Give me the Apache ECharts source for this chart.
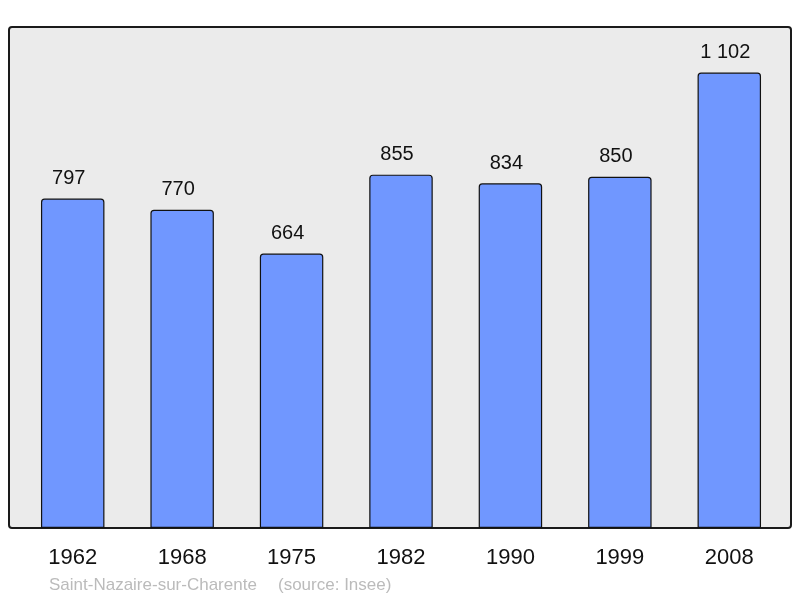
<!DOCTYPE html>
<html>
<head>
<meta charset="utf-8">
<script src="https://cdn.jsdelivr.net/npm/echarts@6/dist/echarts.min.js"></script>
<style>html,body{margin:0;padding:0;background:#fff}#c{width:800px;height:598px}</style>
</head>
<body>
<div id="c"></div>
<script>
var years = ['1962','1968','1975','1982','1990','1999','2008'];
var population = [797, 770, 664, 855, 834, 850, 1102];
var sourceName = 'Saint-Nazaire-sur-Charente';
var sourceNote = '(source: Insee)';

function fmt(v){ return String(v).replace(/\B(?=(\d{3})+(?!\d))/g, ' '); }

var chart = echarts.init(document.getElementById('c'), null, {renderer:'canvas'});
chart.setOption({
  animation: false,
  backgroundColor: '#ffffff',
  graphic: [
    { type:'rect', z:-100, shape:{x:9, y:27, width:782, height:501, r:3},
      style:{fill:'#ebebeb', stroke:'#1a1a1a', lineWidth:2} },
    { type:'text', left:49, top:577,
      style:{text:sourceName, fill:'#bbbbbb', font:'17px "Liberation Sans", Arial, sans-serif'} },
    { type:'text', left:278, top:577,
      style:{text:sourceNote, fill:'#bbbbbb', font:'17px "Liberation Sans", Arial, sans-serif'} }
  ],
  grid: { left:18, right:16, top:27, bottom:70, containLabel:false },
  xAxis: {
    type:'category', data: years,
    axisLine:{show:false}, axisTick:{show:false},
    axisLabel:{ color:'#111', fontSize:22, fontFamily:'"Liberation Sans", Arial, sans-serif', margin:19 }
  },
  yAxis: {
    type:'value', min:0, max:function(v){ return v.max*1.1; },
    show:false, splitLine:{show:false}
  },
  series: [{
    type:'bar', data: population, barWidth:'58%', z:5,
    itemStyle:{ color:'#7097ff', borderColor:'#111', borderWidth:1.2, borderRadius:[3,3,0,0] },
    label:{ show:true, position:'top', distance:10, offset:[-4,0], color:'#111', fontSize:20,
      fontFamily:'"Liberation Sans", Arial, sans-serif',
      formatter:function(p){ return fmt(p.value); } }
  }]
});
</script>
</body>
</html>
